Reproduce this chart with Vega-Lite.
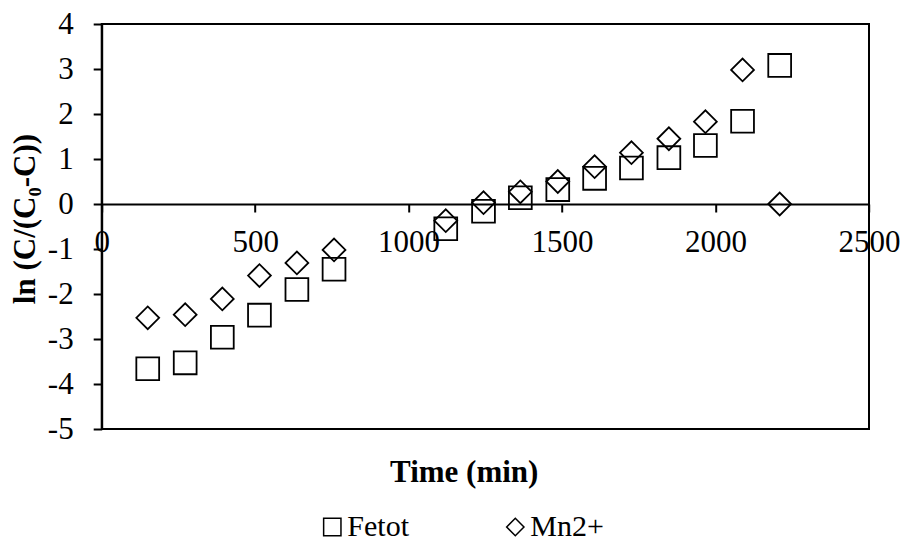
{
  "$schema": "https://vega.github.io/schema/vega-lite/v6.json",
  "autosize": "none",
  "width": 767.3,
  "height": 405,
  "padding": {"left": 101.7, "top": 24, "right": 35, "bottom": 112},
  "background": "white",
  "config": {
    "view": {"stroke": "black", "strokeWidth": 2},
    "font": "Liberation Serif",
    "axis": {"grid": false, "domainColor": "black", "domainWidth": 2, "tickColor": "black", "tickWidth": 2, "labelColor": "black", "titleColor": "black", "labelFont": "Liberation Serif", "titleFont": "Liberation Serif"}
  },
  "data": {
    "values": [
      {"t": 150, "v": -3.66, "s": "Fetot"},
      {"t": 272, "v": -3.53, "s": "Fetot"},
      {"t": 393, "v": -2.96, "s": "Fetot"},
      {"t": 514, "v": -2.47, "s": "Fetot"},
      {"t": 636, "v": -1.90, "s": "Fetot"},
      {"t": 757, "v": -1.45, "s": "Fetot"},
      {"t": 1121, "v": -0.55, "s": "Fetot"},
      {"t": 1244, "v": -0.16, "s": "Fetot"},
      {"t": 1364, "v": 0.14, "s": "Fetot"},
      {"t": 1486, "v": 0.32, "s": "Fetot"},
      {"t": 1606, "v": 0.57, "s": "Fetot"},
      {"t": 1726, "v": 0.80, "s": "Fetot"},
      {"t": 1848, "v": 1.03, "s": "Fetot"},
      {"t": 1967, "v": 1.30, "s": "Fetot"},
      {"t": 2088, "v": 1.84, "s": "Fetot"},
      {"t": 2209, "v": 3.08, "s": "Fetot"},
      {"t": 150, "v": -2.53, "s": "Mn2+"},
      {"t": 272, "v": -2.46, "s": "Mn2+"},
      {"t": 393, "v": -2.11, "s": "Mn2+"},
      {"t": 514, "v": -1.59, "s": "Mn2+"},
      {"t": 636, "v": -1.31, "s": "Mn2+"},
      {"t": 757, "v": -1.02, "s": "Mn2+"},
      {"t": 1121, "v": -0.37, "s": "Mn2+"},
      {"t": 1244, "v": 0.03, "s": "Mn2+"},
      {"t": 1364, "v": 0.27, "s": "Mn2+"},
      {"t": 1486, "v": 0.50, "s": "Mn2+"},
      {"t": 1606, "v": 0.83, "s": "Mn2+"},
      {"t": 1726, "v": 1.14, "s": "Mn2+"},
      {"t": 1848, "v": 1.45, "s": "Mn2+"},
      {"t": 1967, "v": 1.83, "s": "Mn2+"},
      {"t": 2088, "v": 2.98, "s": "Mn2+"},
      {"t": 2209, "v": 0.0, "s": "Mn2+"}
    ]
  },
  "mark": {"type": "point", "filled": false, "stroke": "black", "strokeWidth": 1.8, "opacity": 1, "size": 520},
  "encoding": {
    "x": {
      "field": "t", "type": "quantitative",
      "scale": {"domain": [0, 2500], "nice": false, "zero": false},
      "axis": {
        "values": [0, 500, 1000, 1500, 2000, 2500],
        "labelExpr": "datum.value + ''",
        "offset": -225,
        "tickSize": 8,
        "labelFontSize": 31,
        "labelPadding": 15,
        "labelFlush": false,
        "labelOverlap": false,
        "title": "Time (min)",
        "titleFontSize": 31,
        "titleFontWeight": "bold",
        "titleX": 362,
        "titleY": 277,
        "titleBaseline": "alphabetic",
        "titleAnchor": "middle"
      }
    },
    "y": {
      "field": "v", "type": "quantitative",
      "scale": {"domain": [-5, 4], "nice": false, "zero": false},
      "axis": {
        "values": [-5, -4, -3, -2, -1, 0, 1, 2, 3, 4],
        "labelExpr": "datum.value + ''",
        "tickSize": 8.5,
        "labelFontSize": 31,
        "labelPadding": 20,
        "labelFlush": false,
        "labelOverlap": false,
        "title": "ln (C/(C₀-C))",
        "titleFontSize": 31,
        "titleFontWeight": "bold",
        "titleX": -76.7,
        "titleY": 194.5,
        "titleBaseline": "middle",
        "titleAngle": -90,
        "titleAnchor": "middle"
      }
    },
    "shape": {
      "field": "s", "type": "nominal",
      "scale": {"domain": ["Fetot", "Mn2+"], "range": ["square", "diamond"]},
      "legend": {
        "title": null,
        "orient": "none",
        "direction": "horizontal",
        "legendX": 215.6,
        "legendY": 488,
        "padding": 0,
        "symbolSize": 300,
        "symbolStrokeColor": "black",
        "symbolFillColor": "transparent",
        "symbolStrokeWidth": 1.5,
        "labelFont": "Liberation Serif",
        "labelFontSize": 30,
        "labelColor": "black",
        "labelOffset": 0,
        "columnPadding": 91
      }
    }
  }
}
